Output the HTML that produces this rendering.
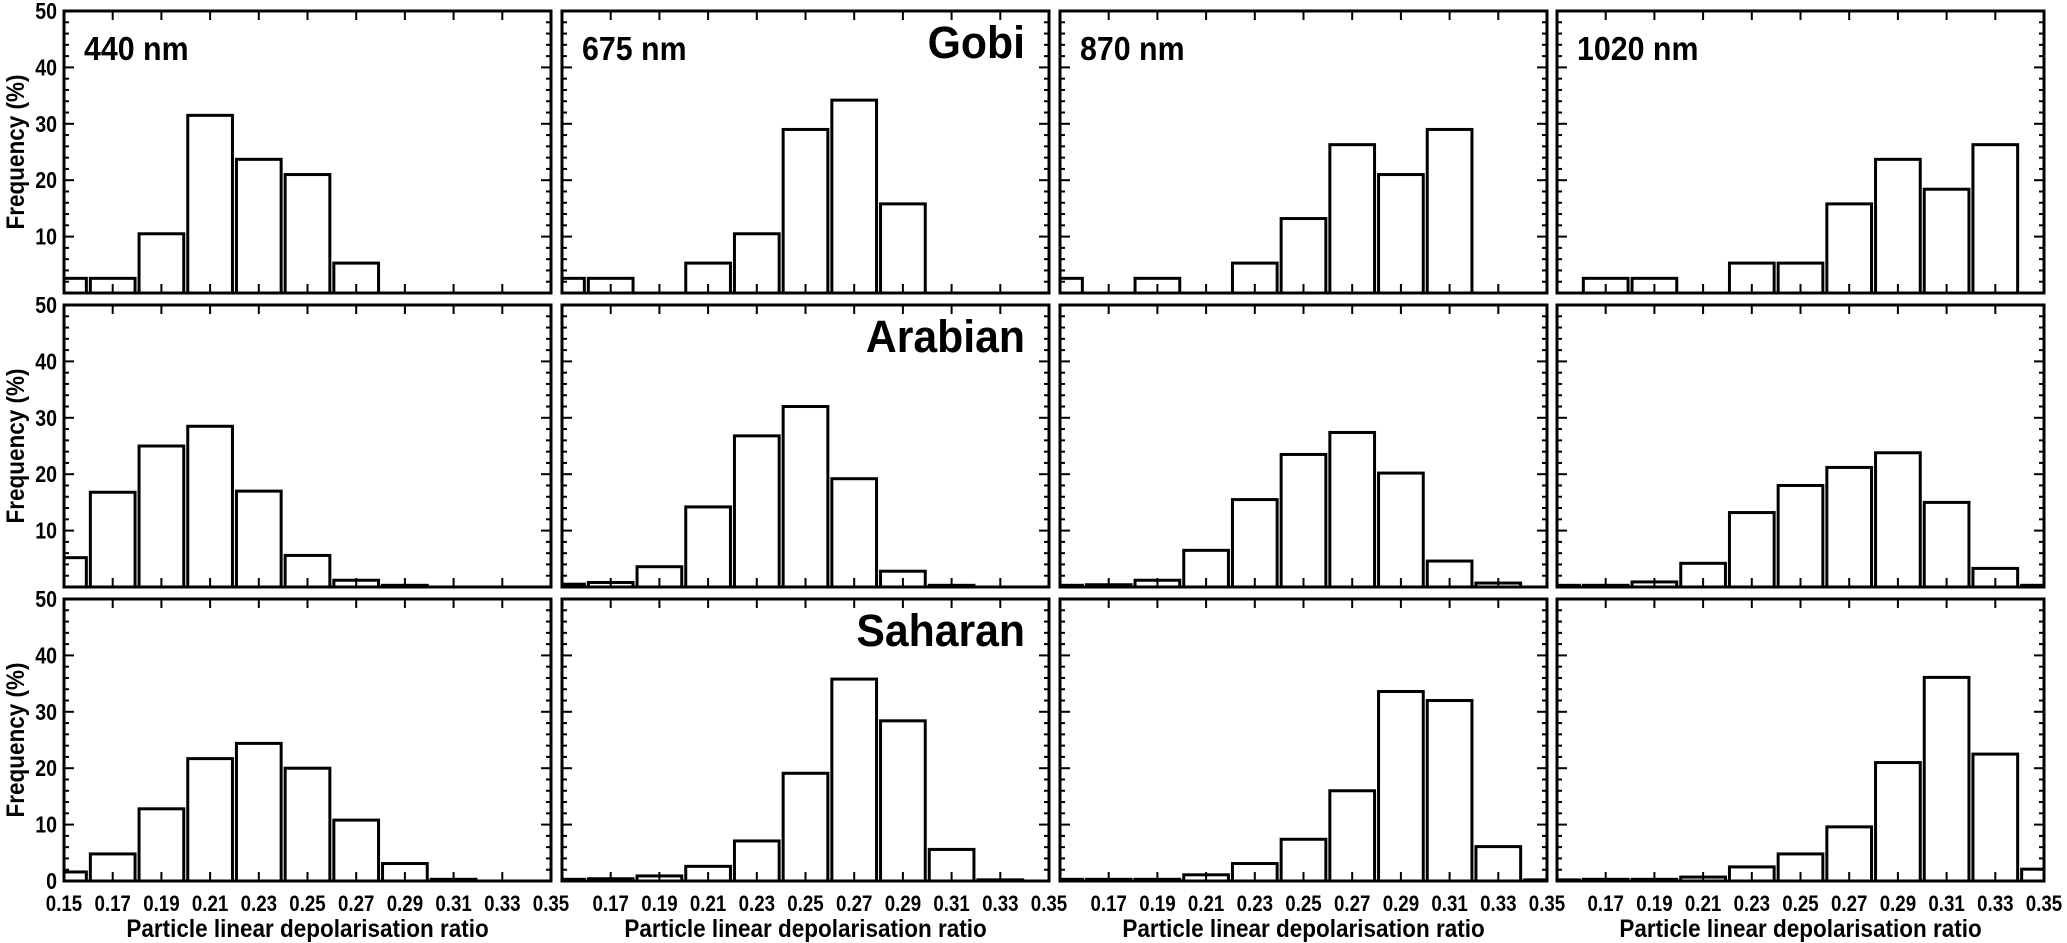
<!DOCTYPE html>
<html><head><meta charset="utf-8"><style>
html,body{margin:0;padding:0;background:#fff;}
svg{display:block;font-family:"Liberation Sans",Arial,sans-serif;font-weight:bold;}
</style></head><body>
<svg id="chart" width="2067" height="943" viewBox="0 0 2067 943" xmlns="http://www.w3.org/2000/svg"></svg>
<script>
const binCenters = [0.15,0.17,0.19,0.21,0.23,0.25,0.27,0.29,0.31,0.33,0.35];
const wavelengths = ["440 nm","675 nm","870 nm","1020 nm"];
const regions = ["Gobi","Arabian","Saharan"];
const gobi440 = [2.6,2.6,10.5,31.5,23.7,21,5.3,0,0,0,0];
const gobi675 = [2.6,2.6,0,5.3,10.5,29,34.2,15.8,0,0,0];
const gobi870 = [2.6,0,2.6,0,5.3,13.2,26.3,21,29,0,0];
const gobi1020 = [0,2.6,2.6,0,5.3,5.3,15.8,23.7,18.4,26.3,0];
const arabian440 = [5.2,16.8,25,28.5,17,5.6,1.2,0.3,0,0,0];
const arabian675 = [0.5,0.8,3.6,14.2,26.8,32,19.2,2.8,0.3,0,0];
const arabian870 = [0.3,0.4,1.2,6.5,15.5,23.5,27.4,20.2,4.6,0.7,0];
const arabian1020 = [0.3,0.3,0.9,4.2,13.2,18,21.2,23.8,15,3.3,0.3];
const saharan440 = [1.6,4.8,12.8,21.7,24.4,20,10.8,3.1,0.3,0,0];
const saharan675 = [0.3,0.4,0.9,2.6,7.1,19.1,35.8,28.4,5.6,0.2,0];
const saharan870 = [0.3,0.3,0.3,1.1,3.1,7.4,16,33.6,32,6.1,0.2];
const saharan1020 = [0.2,0.3,0.3,0.7,2.5,4.8,9.6,21,36.1,22.5,2.1];
const xTicks = [0.15,0.17,0.19,0.21,0.23,0.25,0.27,0.29,0.31,0.33,0.35];
const yTicks = [0,10,20,30,40,50];

const data = [
  [gobi440,gobi675,gobi870,gobi1020],
  [arabian440,arabian675,arabian870,arabian1020],
  [saharan440,saharan675,saharan870,saharan1020]
];
const NS="http://www.w3.org/2000/svg";
const svg=document.getElementById('chart');
const colL=[64,562,1060,1557], W=487;
const rowT=[11,305,599], H=282;
const X0=0.15,X1=0.35,Y1=50;
function mk(tag,attrs,parent){const e=document.createElementNS(NS,tag);for(const k in attrs)e.setAttribute(k,attrs[k]);(parent||svg).appendChild(e);return e;}
function txt(x,y,size,anchor,sx,rot,str,parent){
  const t=mk('text',{x:0,y:0,'font-size':size,'text-anchor':anchor,transform:`translate(${x},${y})${rot?' rotate('+rot+')':''} scale(${sx},1)`},parent);
  t.textContent=str;return t;
}

for(let r=0;r<3;r++){for(let c=0;c<4;c++){
  const L=colL[c],T=rowT[r];
  const xs=v=>L+(v-X0)/(X1-X0)*W;
  const ys=v=>T+H-v/Y1*H;
  const g=mk('g',{});
  
  
  const vals=data[r][c];
  vals.forEach((v,i)=>{
    if(v<=0)return;
    const a=Math.max(xs(binCenters[i]-0.01)+2,L), b=Math.min(xs(binCenters[i]+0.01)-2,L+W);
    const rect=mk('rect',{x:a,y:ys(v),width:b-a,height:ys(0)-ys(v),fill:'#fff',stroke:'#000','stroke-width':3},g);
    
    
  });
  xTicks.forEach(t=>{
    if(t<=X0||t>=X1)return;
    const x=xs(t);
    mk('line',{x1:x,x2:x,y1:T,y2:T+9,stroke:'#000','stroke-width':2},g);
    mk('line',{x1:x,x2:x,y1:T+H,y2:T+H-9,stroke:'#000','stroke-width':2},g);
  });
  for(let v=2;v<50;v+=2){
    const y=ys(v), len=(v%10===0)?10:5;
    mk('line',{x1:L,x2:L+len,y1:y,y2:y,stroke:'#000','stroke-width':2},g);
    mk('line',{x1:L+W,x2:L+W-len,y1:y,y2:y,stroke:'#000','stroke-width':2},g);
  }
  const fr=mk('rect',{x:L,y:T,width:W,height:H,fill:'none',stroke:'#000','stroke-width':3},g);
  
  
  if(r===0){
    const t=txt(L+20,T+49,33,'start',0.92,0,wavelengths[c],g);
    
    
  }
  if(c===1){
    const t=txt(L+W-24,T+47,45,'end',0.95,0,regions[r],g);
    
    
  }
  if(c===0){
    yTicks.forEach(v=>{
      if(v===0&&r!==2)return;
      const t=txt(L-7,ys(v)+8,23,'end',0.85,0,String(v),g);
      
      
    });
    const yt=txt(24,T+H/2,25,'middle',0.9,-90,'Frequency (%)',g);
    
    
  }
  if(r===2){
    xTicks.forEach(t=>{
      if(c>0&&t===X0)return;
      const tx=txt(xs(t),T+H+30,22,'middle',0.85,0,t.toFixed(2),g);
      
      
    });
    const xt=txt(L+W/2,T+H+56,25,'middle',0.9,0,'Particle linear depolarisation ratio',g);
    
    
  }
}}
</script>
</body></html>
